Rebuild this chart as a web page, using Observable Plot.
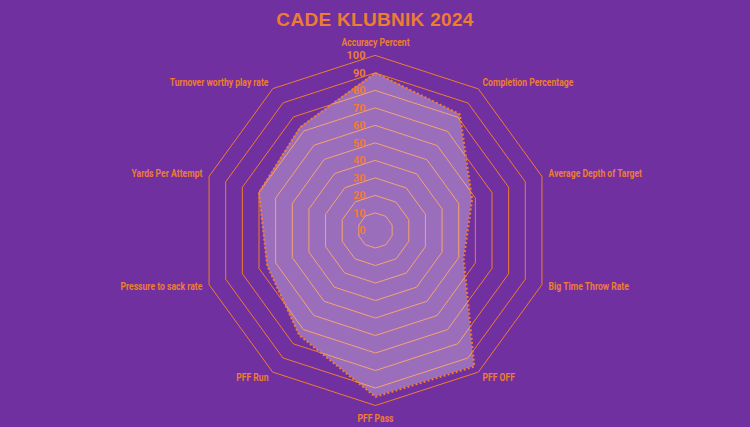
<!DOCTYPE html>
<html><head><meta charset="utf-8">
<script src="https://cdn.jsdelivr.net/npm/d3@7"></script>
<script src="https://cdn.jsdelivr.net/npm/@observablehq/plot@0.6"></script>
<style>
html,body{margin:0;padding:0;background:#7030A0;width:750px;height:427px;overflow:hidden}
#title{height:38px;line-height:40px;text-align:center;color:#ED7D31;font-family:"Liberation Sans",Arial,sans-serif;font-weight:bold;font-size:19px;letter-spacing:0.3px}
#chart svg{display:block}
</style></head><body>
<div id="title">CADE KLUBNIK 2024</div>
<div id="chart"></div>
<script>
const categories = ["Accuracy Percent","Completion Percentage","Average Depth of Target","Big Time Throw Rate","PFF OFF","PFF Pass","PFF Run","Pressure to sack rate","Yards Per Attempt","Turnover worthy play rate"];
const values = [90, 82, 58, 53, 96, 95, 74, 65, 70, 73];
const ringLevels = [10, 20, 30, 40, 50, 60, 70, 80, 90, 100];
const tickLabels = [0, 10, 20, 30, 40, 50, 60, 70, 80, 90, 100];

const ORANGE = "#ED7D31";
const DEG = 0.005;            // degrees of arc per value unit
const lon = i => 180 - 36 * i; // clockwise from top
const lat = v => 90 - v * DEG;

const points = categories.map((key, i) => ({key, i, value: values[i]}));
const rings = ringLevels.flatMap(level => categories.map((c, i) => ({level, i})));
const LABEL_R = 104;
const labelFont = '"Roboto","Liberation Sans",sans-serif';

const H = 389;
const plot = Plot.plot({
  width: 750,
  height: H,
  marginTop: 0, marginLeft: 0, marginRight: 0, marginBottom: 5,
  style: {background: "transparent", overflow: "visible"},
  projection: {
    type: "azimuthal-equidistant",
    rotate: [0, -90],
    domain: d3.geoCircle().center([0, 90]).radius(100 * DEG * 192 / 175)()
  },
  marks: [
    Plot.line(rings, {x: d => lon(d.i), y: d => lat(d.level), z: "level", curve: "linear-closed", stroke: ORANGE, strokeWidth: 1}),
    Plot.area(points, {x1: d => lon(d.i), y1: d => lat(d.value), x2: 0, y2: 90, curve: "linear-closed", fill: "white", fillOpacity: 0.3}),
    Plot.line(points, {x: d => lon(d.i), y: d => lat(d.value), curve: "linear-closed", stroke: ORANGE, strokeWidth: 2.2, strokeDasharray: "2,2.2", strokeLinecap: "butt"}),
    Plot.text(tickLabels, {x: 180, y: d => lat(d), text: d => String(d), textAnchor: "end", dx: -10, fill: ORANGE, fontSize: 11, fontWeight: "bold", fontFamily: labelFont}),
    Plot.text(points.filter(d => d.i >= 1 && d.i <= 4), {x: d => lon(d.i), y: lat(LABEL_R), text: "key", textAnchor: "start", fill: ORANGE, fontSize: 10, fontWeight: "bold", fontFamily: labelFont}),
    Plot.text(points.filter(d => d.i >= 6), {x: d => lon(d.i), y: lat(LABEL_R), text: "key", textAnchor: "end", fill: ORANGE, fontSize: 10, fontWeight: "bold", fontFamily: labelFont}),
    Plot.text(points.filter(d => d.i === 0), {x: d => lon(d.i), y: lat(LABEL_R), text: "key", textAnchor: "middle", lineAnchor: "bottom", dy: -2, fill: ORANGE, fontSize: 10, fontWeight: "bold", fontFamily: labelFont}),
    Plot.text(points.filter(d => d.i === 5), {x: d => lon(d.i), y: lat(LABEL_R), text: "key", textAnchor: "middle", lineAnchor: "top", dy: 2, fill: ORANGE, fontSize: 10, fontWeight: "bold", fontFamily: labelFont})
  ]
});
document.getElementById("chart").appendChild(plot);
// condense category labels to mimic a narrow typeface
plot.querySelectorAll("text").forEach(t => {
  if (categories.includes(t.textContent)) {
    const w = t.getComputedTextLength();
    t.setAttribute("textLength", (w * 0.86).toFixed(1));
    t.setAttribute("lengthAdjust", "spacingAndGlyphs");
  }
});
</script>
</body></html>
